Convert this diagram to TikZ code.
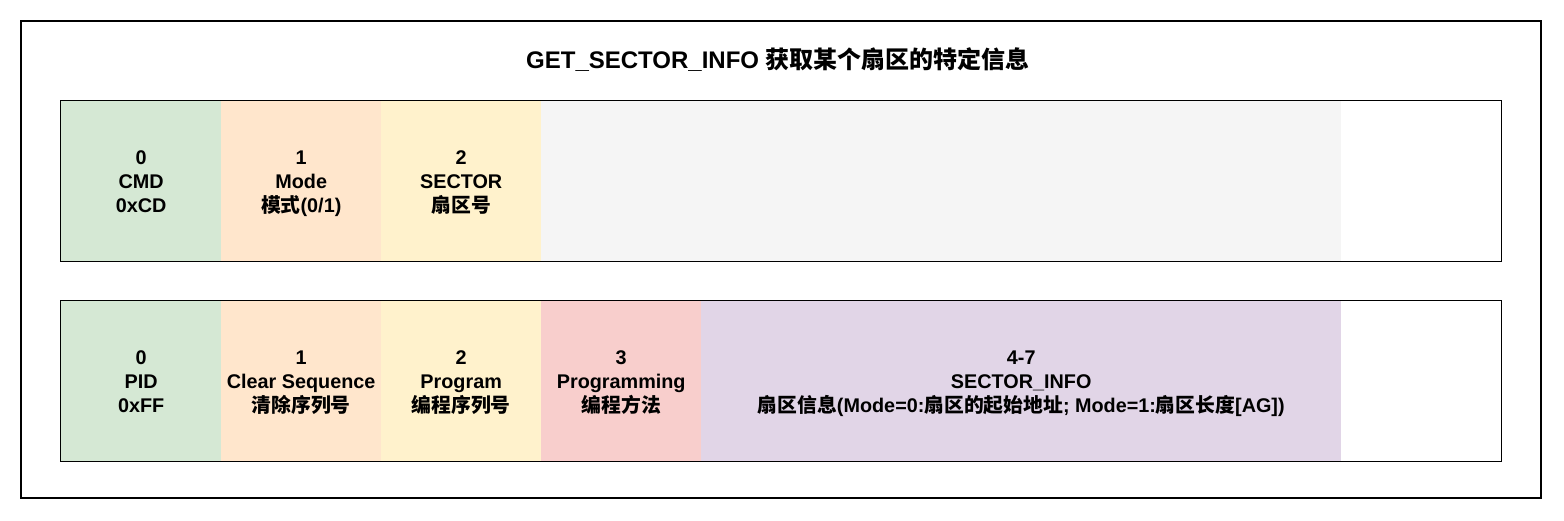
\documentclass[tikz,border=0pt]{standalone}
\usepackage{fontspec}
\setmainfont{Liberation Sans}
\newfontfamily\cjkf{Noto Sans CJK SC}
\newcommand\zh[1]{{\cjkf\bfseries #1}}
\newcommand\celltext[3]{\rule{0pt}{18.5pt}#1\\#2\\#3\vphantom{(}}
\definecolor{cgreen}{HTML}{D5E8D4}
\definecolor{corange}{HTML}{FFE6CC}
\definecolor{cyellow}{HTML}{FFF2CC}
\definecolor{cgray}{HTML}{F5F5F5}
\definecolor{cred}{HTML}{F8CECC}
\definecolor{cpurple}{HTML}{E1D5E7}
\tikzset{
  cellbox/.style={rectangle, inner sep=0pt, anchor=north west, minimum height=160pt,
    minimum width=160pt, align=center, font=\fontsize{19.8}{24}\selectfont\bfseries},
  rowbox/.style={rectangle, draw=black, line width=1.2pt, inner sep=0pt,
    minimum width=1441pt, minimum height=161pt},
  outerbox/.style={rectangle, draw=black, line width=2.2pt, inner sep=0pt,
    minimum width=1520pt, minimum height=477pt},
  titlebox/.style={inner sep=0pt, font=\fontsize{24}{28}\selectfont\bfseries}
}
\begin{document}
\begin{tikzpicture}[x=1pt,y=-1pt]
\useasboundingbox (0,0) rectangle (1564,520);
\node[outerbox] (frame) at (781,259.5) {};
\node[titlebox] (title) at (778,60) {GET\_SECTOR\_INFO \zh{获取某个扇区的特定信息}};
% row 1
\node[cellbox, fill=cgreen] (a0) at (61,101) {\celltext{0}{CMD}{0xCD}};
\node[cellbox, fill=corange] (a1) at (221,101) {\celltext{1}{Mode}{\zh{模式}(0/1)}};
\node[cellbox, fill=cyellow] (a2) at (381,101) {\celltext{2}{SECTOR}{\zh{扇区号}}};
\node[cellbox, fill=cgray, minimum width=800pt] (a3) at (541,101) {};
\node[rowbox] (row1) at (781,181) {};
% row 2
\node[cellbox, fill=cgreen] (b0) at (61,301) {\celltext{0}{PID}{0xFF}};
\node[cellbox, fill=corange] (b1) at (221,301) {\celltext{1}{Clear Sequence}{\zh{清除序列号}}};
\node[cellbox, fill=cyellow] (b2) at (381,301) {\celltext{2}{Program}{\zh{编程序列号}}};
\node[cellbox, fill=cred] (b3) at (541,301) {\celltext{3}{Programming}{\zh{编程方法}}};
\node[cellbox, fill=cpurple, minimum width=640pt] (b4) at (701,301) {\celltext{4-7}{SECTOR\_INFO}{\zh{扇区信息}(Mode=0:\zh{扇区的起始地址}; Mode=1:\zh{扇区长度}[AG])}};
\node[rowbox] (row2) at (781,381) {};
\end{tikzpicture}
\end{document}
